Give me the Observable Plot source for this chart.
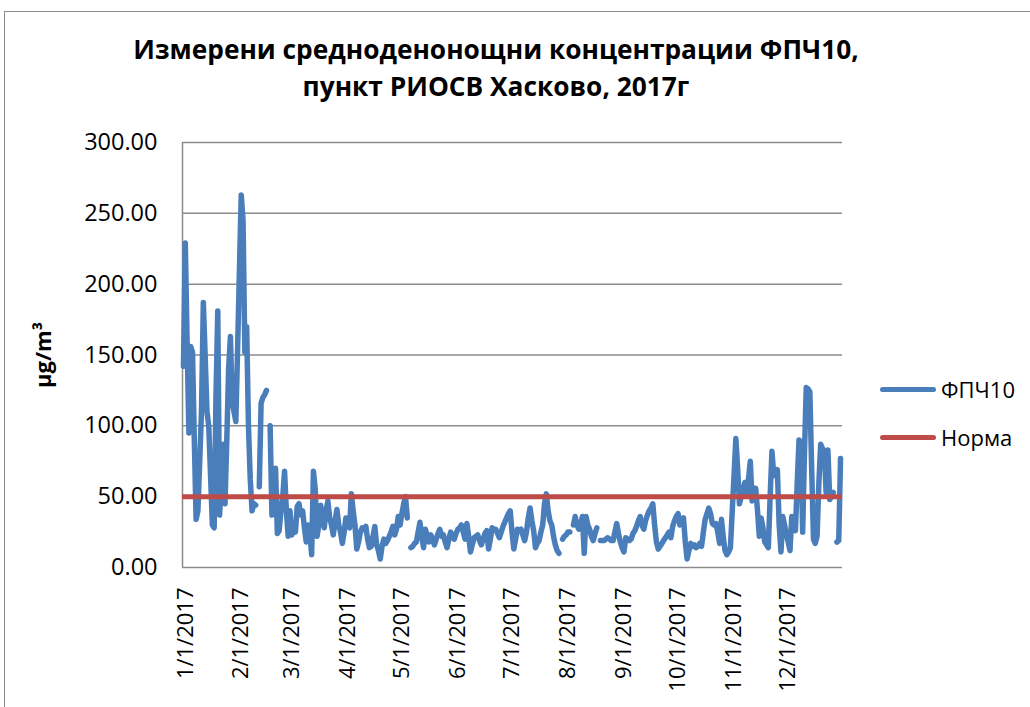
<!DOCTYPE html>
<html><head><meta charset="utf-8">
<script src="https://cdn.jsdelivr.net/npm/d3@7"></script>
<script src="https://cdn.jsdelivr.net/npm/@observablehq/plot@0.6"></script>
<style>
html,body{margin:0;padding:0;width:1030px;height:707px;overflow:hidden;background:#fff;font-family:"Open Sans",sans-serif;color:#000;}
#wrap{position:relative;width:1030px;height:707px;overflow:hidden;}
#border{position:absolute;left:4px;top:11px;width:1100px;height:800px;border:1.5px solid #8c8c8c;}
#title{position:absolute;left:0;top:31px;width:992px;text-align:center;font-weight:bold;font-size:26.3px;line-height:37px;}
#chart{position:absolute;left:0;top:120px;}
#ylab{position:absolute;left:42px;top:355px;transform:translate(-50%,-50%) rotate(-90deg);font-weight:bold;font-size:22px;white-space:nowrap;}
.leg{position:absolute;left:880px;height:30px;display:flex;align-items:center;font-size:22px;}
.leg span.sw{display:inline-block;width:56px;height:5px;border-radius:3px;margin-right:5px;}
</style>
</head><body>
<div id="wrap">
<div id="border"></div>
<div id="title">Измерени средноденонощни концентрации ФПЧ10,<br>пункт РИОСВ Хасково, 2017г</div>
<div id="ylab">μg/m³</div>
<div id="chart"></div>
<div class="leg" style="top:374px"><span class="sw" style="background:#4a7ebb"></span>ФПЧ10</div>
<div class="leg" style="top:422px"><span class="sw" style="background:#be4b48"></span>Норма</div>
</div>
<script>
const seriesName = "ФПЧ10";
const normName = "Норма";
const norm = 50;
const year = 2017;
const jan = [142,229,160,95,156,152,90,34,40,75,111,187,150,110,100,65,30,28,120,181,37,60,87,45,90,140,163,117,110,103,155];
const feb = [210,263,245,152,170,100,62,40,45,44,null,57,116,120,122,125,null,100,37,55,70,24,26,40,50,68,40,22];
const mar = [40,23,30,25,43,45,37,40,28,18,30,25,9,68,55,22,30,44,35,28,40,47,35,30,23,33,41,30,25,17,25];
const apr = [35,30,28,52,40,30,13,18,25,28,27,29,20,14,15,22,29,16,12,6,15,20,17,19,22,25,29,23,27,36];
const may = [30,38,45,50,35,null,14,15,17,18,25,32,22,14,27,22,18,23,20,16,20,24,27,22,23,18,14,20,25,22,20];
const jun = [24,27,28,30,25,20,31,22,11,16,21,22,23,19,16,20,24,26,13,20,28,27,27,24,21,25,29,32,35,38];
const jul = [40,25,13,20,27,26,27,23,19,25,35,42,33,26,14,17,19,25,30,45,52,40,33,30,22,16,12,10,null,20,22];
const aug = [23,25,25,null,30,36,30,27,30,36,10,36,30,27,22,19,24,28,null,19,19,19,20,21,20,19,19,25,31,24,18];
const sep = [14,11,21,20,19,20,24,26,29,33,36,30,27,33,37,40,42,45,30,18,13,15,17,19,21,23,25,21,29,33];
const oct = [36,38,30,33,35,18,6,12,17,15,16,14,15,17,15,25,34,38,42,38,31,30,31,25,17,34,22,12,9,11,14];
const nov = [40,65,91,70,45,50,55,60,51,62,75,47,56,56,40,22,35,28,18,16,14,50,82,65,67,69,30,11,36,30];
const dec = [23,18,12,36,30,26,60,90,88,25,80,127,126,124,70,20,17,22,60,87,84,82,53,83,48,50,53,null,18,19,77];
const yTicks = [0,50,100,150,200,250,300];

const months = [jan,feb,mar,apr,may,jun,jul,aug,sep,oct,nov,dec];
const data = [];
months.forEach((arr, m) => arr.forEach((v, i) => data.push({date: new Date(Date.UTC(year, m, i + 1)), value: v})));
const monthStarts = d3.range(12).map(m => new Date(Date.UTC(year, m, 1)));
const xDomain = [new Date(Date.UTC(year - 1, 11, 31, 11)), new Date(Date.UTC(year + 1, 0, 1, 2))];
const fmtDate = d => `${d.getUTCMonth() + 1}/${d.getUTCDate()}/${d.getUTCFullYear()}`;
const grid = "#8c8c8c";

const chart = Plot.plot({
  width: 860, height: 587,
  marginTop: 22, marginBottom: 140, marginLeft: 182, marginRight: 18,
  style: {fontFamily: "Open Sans, sans-serif", fontSize: "22px", color: "#000", background: "transparent"},
  x: {type: "utc", domain: xDomain, axis: null},
  y: {domain: [0, 300], axis: null},
  marks: [
    Plot.ruleY(yTicks.slice(1), {stroke: grid, strokeWidth: 1.5}),
    Plot.ruleY([0], {stroke: grid, strokeWidth: 1.5}),
    Plot.ruleX([xDomain[0]], {stroke: grid, strokeWidth: 1.5}),
    Plot.line(data, {x: "date", y: "value", stroke: "#4a7ebb", strokeWidth: 5.5, strokeLinejoin: "round", strokeLinecap: "round"}),
    Plot.ruleY([norm], {stroke: "#be4b48", strokeWidth: 5}),
    Plot.axisY({ticks: yTicks, tickFormat: d3.format(".2f"), tickSize: 0, tickPadding: 25, label: null, fontSize: 23.5}),
    Plot.axisX({ticks: monthStarts, tickFormat: fmtDate, tickRotate: -90, tickSize: 0, tickPadding: 20, dx: 2, label: null, fontSize: 22})
  ]
});
document.getElementById("chart").appendChild(chart);
</script>
</body></html>
